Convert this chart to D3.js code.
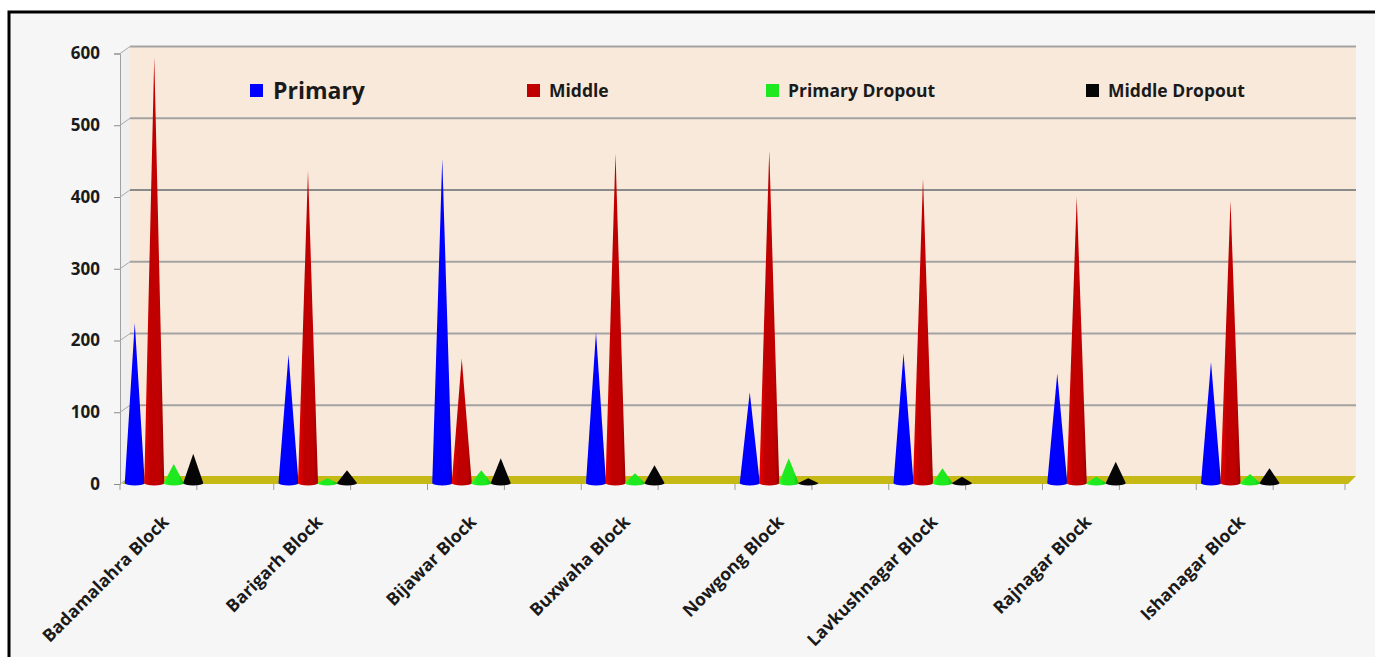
<!DOCTYPE html>
<html><head><meta charset="utf-8">
<script src="https://cdn.jsdelivr.net/npm/d3@7"></script>
<style>html,body{margin:0;padding:0;background:#fff;}svg{display:block;}</style>
</head><body>
<script>
const categories = ["Badamalahra Block","Barigarh Block","Bijawar Block","Buxwaha Block","Nowgong Block","Lavkushnagar Block","Rajnagar Block","Ishanagar Block"];
const seriesNames = ["Primary","Middle","Primary Dropout","Middle Dropout"];
const primary = [225,180,454,212,128,182,154,170];
const middle = [595,437,175,461,465,426,400,395];
const primaryDropout = [28,8,19,15,36,22,10,14];
const middleDropout = [42,19,36,26,8,10,31,22];
const yTicks = [0,100,200,300,400,500,600];
const seriesColors = ["#0000ff","#c00000","#1ee81e","#050505"];
const seriesValues = [primary, middle, primaryDropout, middleDropout];

const FONT = "'Open Sans', Lato, sans-serif";
const W = 1375, H = 657;
const svg = d3.select("body").append("svg").attr("width", W).attr("height", H);
const defs = svg.append("defs");

// background + frame
svg.append("rect").attr("width", W).attr("height", H).attr("fill", "#ffffff");
svg.append("rect").attr("x", 9).attr("y", 12).attr("width", W + 20).attr("height", H + 20)
  .attr("fill", "#f6f6f6").attr("stroke", "#000").attr("stroke-width", 3);

const x0 = 120, x1 = 1350, depth = 8;
const x = d3.scaleBand().domain(categories).range([x0, x1]).padding(0);
const xs = d3.scaleBand().domain(seriesNames).range([5, 83]).padding(0);
const y = d3.scaleLinear().domain([0, 600]).range([484, 53.5]);

// side wall
svg.append("path")
  .attr("d", `M${x0},${y(0)}L${x0+10},${y(0)-depth}L${x0+10},${y(600)-depth+1}L${x0},${y(600)}Z`)
  .attr("fill", "#efefef");
// back wall
svg.append("rect").attr("x", x0 + 10).attr("y", y(600) - depth + 1)
  .attr("width", x1 + 6 - (x0 + 10)).attr("height", y(0) - depth - (y(600) - depth + 1))
  .attr("fill", "#f8e9da");
// gridlines
svg.append("g").selectAll("line").data(yTicks.filter(d => d > 0)).join("line")
  .attr("x1", x0 + 10).attr("x2", x1 + 6)
  .attr("y1", d => y(d) - depth + 1).attr("y2", d => y(d) - depth + 1)
  .attr("stroke", d => d === 400 ? "#8a8a8a" : "#a3a3a3").attr("stroke-width", 2);
svg.append("g").selectAll("line").data(yTicks).join("line")
  .attr("x1", x0).attr("x2", x0 + 10)
  .attr("y1", d => y(d)).attr("y2", d => y(d) - depth + 1)
  .attr("stroke", "#a8a8a8").attr("stroke-width", 1);

// floor
svg.append("path")
  .attr("d", `M${x0+2},${y(0)}L${x1-2},${y(0)}L${x1+6},${y(0)-depth}L${x0+10},${y(0)-depth}Z`)
  .attr("fill", "#c6b815");

// y axis
const yAxis = svg.append("g").attr("transform", `translate(${x0},0)`)
  .call(d3.axisLeft(y).tickValues(yTicks).tickSize(6).tickPadding(14).tickFormat(d3.format("d")));
yAxis.select(".domain").attr("stroke", "#a0a0a0");
yAxis.selectAll(".tick line").attr("stroke", "#8a8a8a");
yAxis.selectAll(".tick text").attr("font-family", FONT)
  .attr("font-weight", "bold").attr("font-size", 17).attr("fill", "#1a1a1a");

// x axis ticks (half-band)
const tickPos = d3.range(0, categories.length * 2 + 1).map(i => x0 + i * x.bandwidth() / 2);
svg.append("g").selectAll("line").data(tickPos.slice(0, -1)).join("line")
  .attr("x1", d => d).attr("x2", d => d).attr("y1", y(0)).attr("y2", y(0) + 6)
  .attr("stroke", "#9a9a9a").attr("stroke-width", 1);
svg.append("line").attr("x1", x1 - 5).attr("x2", x1 - 5).attr("y1", y(0)).attr("y2", y(0) + 6)
  .attr("stroke", "#9a9a9a");

// gradients
seriesColors.forEach((c, i) => {
  const g = defs.append("linearGradient").attr("id", "cg" + i).attr("x1", "0").attr("x2", "1").attr("y1", "0").attr("y2", "0");
  const base = d3.color(c);
  g.append("stop").attr("offset", "0%").attr("stop-color", d3.rgb(base).brighter(i === 3 ? 1.2 : 0.6));
  g.append("stop").attr("offset", "30%").attr("stop-color", base);
  g.append("stop").attr("offset", "75%").attr("stop-color", base);
  g.append("stop").attr("offset", "100%").attr("stop-color", d3.rgb(base).darker(0.6));
});

// cones
const coneW = 20;
const cones = [];
categories.forEach((cat, ci) => {
  seriesNames.forEach((s, si) => {
    cones.push({cat, s, si, v: seriesValues[si][ci]});
  });
});
svg.append("g").selectAll("path").data(cones).join("path")
  .attr("d", d => {
    const cx = x(d.cat) + xs(d.s) + xs.bandwidth() / 2;
    const by = y(0) - 1;
    const ty = y(d.v);
    return `M${cx - coneW/2},${by}L${cx},${ty}L${cx + coneW/2},${by}A${coneW/2},2.5 0 0 1 ${cx - coneW/2},${by}Z`;
  })
  .attr("fill", d => `url(#cg${d.si})`);

// legend
const legendX = [250, 527, 766, 1086];
const legend = svg.append("g").selectAll("g").data(seriesNames).join("g")
  .attr("transform", (d, i) => `translate(${legendX[i]},84)`);
legend.append("rect").attr("width", 13).attr("height", 13).attr("fill", (d, i) => seriesColors[i]);
legend.append("text").attr("x", (d, i) => i === 0 ? 23 : 22).attr("y", (d, i) => i === 0 ? 15 : 13)
  .attr("font-family", FONT).attr("font-weight", "bold")
  .attr("font-size", (d, i) => i === 0 ? 23 : 17.5).attr("fill", "#1a1a1a")
  .text(d => d);

// category labels
svg.append("g").selectAll("text").data(categories).join("text")
  .attr("transform", d => `translate(${x(d) + 50},523) rotate(-45)`)
  .attr("text-anchor", "end")
  .attr("font-family", FONT).attr("font-weight", "bold")
  .attr("font-size", 17.5).attr("fill", "#1a1a1a")
  .text(d => d);
</script>
</body></html>
